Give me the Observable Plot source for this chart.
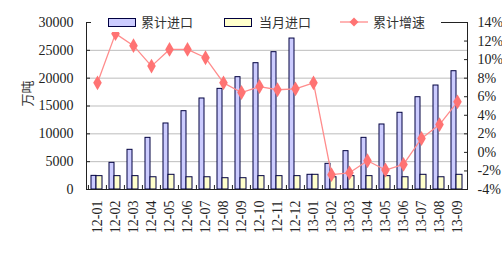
<!DOCTYPE html>
<html><head><meta charset="utf-8">
<script src="https://cdn.jsdelivr.net/npm/d3@7"></script>
<script src="https://cdn.jsdelivr.net/npm/@observablehq/plot@0.6"></script>
<style>
body{margin:0;background:#fff;}
#wrap{position:relative;width:502px;height:253px;overflow:hidden;}
#legend{position:absolute;left:91px;top:12px;width:350px;height:20px;background:#fff;font:13px "Noto Sans CJK SC",sans-serif;color:#333;}
#legend span{position:absolute;top:0;line-height:20px;white-space:nowrap;}
.box{position:absolute;top:6px;width:26px;height:7px;border:1px solid #000040;}
#ytitle{position:absolute;left:13px;top:84px;font:13px "Noto Sans CJK SC",sans-serif;color:#333;transform:rotate(-90deg);transform-origin:center;}
</style></head><body><div id="wrap"></div>
<script>
const months = ["12-01","12-02","12-03","12-04","12-05","12-06","12-07","12-08","12-09","12-10","12-11","12-12","13-01","13-02","13-03","13-04","13-05","13-06","13-07","13-08","13-09"];
const cumImport = [2450,4790,7130,9280,11860,14070,16350,18080,20180,22690,24670,27120,2640,4610,6890,9280,11680,13780,16580,18680,21250];
const monthImport = [2400,2400,2400,2200,2640,2200,2200,2030,2030,2400,2400,2400,2640,2200,2400,2400,2400,2200,2640,2200,2640];
const cumGrowth = [7.5,12.8,11.5,9.3,11.1,11.1,10.2,7.5,6.45,7.1,6.75,6.85,7.5,-2.4,-2.2,-0.9,-1.9,-1.3,1.5,3.0,5.45];
const leftTicks = [0,5000,10000,15000,20000,25000,30000];
const rightTicks = [-4,-2,0,2,4,6,8,10,12,14];
const seriesNames = ["累计进口","当月进口","累计增速"];
const yTitle = "万吨";

const yMax = 30000, gMin = -4, gMax = 14;
const toY = g => (g - gMin) / (gMax - gMin) * yMax;
const fromY = v => Math.round(v / yMax * (gMax - gMin) + gMin);
const rows = months.map((m, i) => ({m, cum: cumImport[i], mon: monthImport[i], g: toY(cumGrowth[i])}));
const bw = (502 - 86 - 35) / months.length;

const chart = Plot.plot({
  width: 502, height: 253,
  marginLeft: 86, marginRight: 35, marginTop: 22, marginBottom: 64,
  style: {fontFamily: "'Liberation Serif', serif", fontSize: "14px", background: "#fff", color: "#222"},
  x: {type: "band", domain: months, padding: 0},
  y: {domain: [0, yMax]},
  marks: [
    Plot.gridY(leftTicks.filter(v => v > 0 && v < yMax), {stroke: "#bdbdbd", strokeOpacity: 1}),
    Plot.frame({anchor: "top", stroke: "#222"}),
    Plot.barY(rows, {x: "m", y: "cum", fill: "#ccccff", stroke: "#000040", strokeWidth: 1, insetLeft: 3, insetRight: 10}),
    Plot.barY(rows, {x: "m", y: "mon", fill: "#ffffcc", stroke: "#000040", strokeWidth: 1, insetLeft: 8, insetRight: 4}),
    Plot.line(rows, {x: "m", y: "g", stroke: "#ff8c8c", strokeWidth: 1.3}),
    Plot.dot(rows, {x: "m", y: "g", symbol: "diamond", r: 4.5, fill: "#ff7373", stroke: "none"}),
    Plot.frame({anchor: "left", stroke: "#222"}),
    Plot.frame({anchor: "right", stroke: "#222"}),
    Plot.frame({anchor: "bottom", stroke: "#222"}),
    Plot.axisY(leftTicks, {anchor: "left", tickSize: -4, tickPadding: 17, label: null, tickFormat: d => String(d), stroke: "#222"}),
    Plot.axisY(rightTicks.map(toY), {anchor: "right", tickSize: -4, tickPadding: 14, label: null, tickFormat: v => fromY(v) + "%", stroke: "#222"}),
    Plot.axisX({anchor: "bottom", tickSize: -4, dx: -bw / 2, tickFormat: () => "", label: null, stroke: "#222"}),
    Plot.axisX({anchor: "bottom", tickSize: 0, tickPadding: 11, tickRotate: -90, label: null})
  ]
});
const wrap = document.getElementById("wrap");
wrap.appendChild(chart);

const lg = document.createElement("div");
lg.id = "legend";
lg.innerHTML =
  `<div class="box" style="left:17px;background:#ccccff"></div><span style="left:50px">${seriesNames[0]}</span>` +
  `<div class="box" style="left:133px;background:#ffffcc"></div><span style="left:168px">${seriesNames[1]}</span>` +
  `<svg style="position:absolute;left:249px;top:0" width="30" height="20"><line x1="0" y1="10" x2="28" y2="10" stroke="#ff8c8c" stroke-width="1.3"/><path d="M14,5.5L18.5,10L14,14.5L9.5,10Z" fill="#ff7373"/></svg><span style="left:282px">${seriesNames[2]}</span>`;
wrap.appendChild(lg);
const yt = document.createElement("div");
yt.id = "ytitle";
yt.textContent = yTitle;
wrap.appendChild(yt);
</script>
</body></html>
